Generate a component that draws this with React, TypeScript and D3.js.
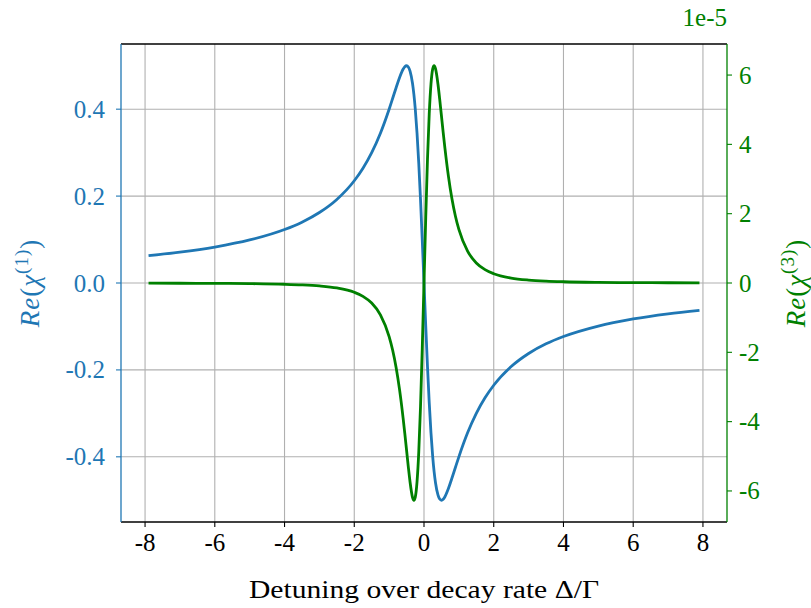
import React from "react";
import * as d3 from "d3";

const detuning = [
  -7.9, -7, -6, -5, -4, -3.5, -3, -2.5, -2, -1.75, -1.5, -1.25, -1, -0.9, -0.8, -0.7, -0.6, -0.55, -0.5, -0.45, -0.4, -0.33, -0.29, -0.25, -0.2, -0.15, -0.1, -0.05,
  0,
  0.05, 0.1, 0.15, 0.2, 0.25, 0.29, 0.33, 0.4, 0.45, 0.5, 0.55, 0.6, 0.7, 0.8, 0.9, 1, 1.25, 1.5, 1.75, 2, 2.5, 3, 3.5, 4, 5, 6, 7, 7.9,
];

const chi1 = [
  0.063, 0.0711, 0.0828, 0.099, 0.1231, 0.14, 0.1622, 0.1923, 0.2353, 0.2642, 0.3, 0.3448, 0.4, 0.4245, 0.4494, 0.473, 0.4918, 0.4977, 0.5, 0.4972, 0.4878, 0.4597, 0.434, 0.4, 0.3448, 0.2752, 0.1923, 0.099,
  0,
  -0.099, -0.1923, -0.2752, -0.3448, -0.4, -0.434, -0.4597, -0.4878, -0.4972, -0.5, -0.4977, -0.4918, -0.473, -0.4494, -0.4245, -0.4, -0.3448, -0.3, -0.2642, -0.2353, -0.1923, -0.1622, -0.14, -0.1231, -0.099, -0.0828, -0.0711, -0.063,
];

// in units of 1e-5
const chi3 = [
  -0.0049, -0.007, -0.011, -0.0189, -0.0366, -0.0541, -0.0846, -0.1428, -0.2672, -0.3848, -0.5791, -0.9181, -1.5443, -1.9328, -2.4371, -3.0846, -3.8909, -4.3477, -4.826, -5.3031, -5.7418, -6.1821, -6.269, -6.1773, -5.7384, -4.8743, -3.5696, -1.8924,
  0,
  1.8924, 3.5696, 4.8743, 5.7384, 6.1773, 6.269, 6.1821, 5.7418, 5.3031, 4.826, 4.3477, 3.8909, 3.0846, 2.4371, 1.9328, 1.5443, 0.9181, 0.5791, 0.3848, 0.2672, 0.1428, 0.0846, 0.0541, 0.0366, 0.0189, 0.011, 0.007, 0.0049,
];

const xTicks = [-8, -6, -4, -2, 0, 2, 4, 6, 8];
const leftTicks = [-0.4, -0.2, 0, 0.2, 0.4];
const leftTickLabels = ["-0.4", "-0.2", "0.0", "0.2", "0.4"];
const rightTicks = [-6, -4, -2, 0, 2, 4, 6];
const rightTickLabels = ["-6", "-4", "-2", "0", "2", "4", "6"];

const BLUE = "#1f77b4";
const GREEN = "#008000";
const FONT = "'Liberation Serif', 'DejaVu Serif', serif";

export default function App() {
  const L = 121, R = 727, T = 44, B = 522;
  const x = d3.scaleLinear().domain([-8.69, 8.69]).range([L, R]);
  const yL = d3.scaleLinear().domain([-0.55, 0.55]).range([B, T]);
  const yR = d3.scaleLinear().domain([-6.896, 6.896]).range([B, T]);

  const idx = detuning.map((_, i) => i);
  const line1 = d3.line<number>().x((i) => x(detuning[i])).y((i) => yL(chi1[i])).curve(d3.curveMonotoneX)(idx) || "";
  const line3 = d3.line<number>().x((i) => x(detuning[i])).y((i) => yR(chi3[i])).curve(d3.curveMonotoneX)(idx) || "";

  const fs = 25;

  return (
    <div style={{ position: "absolute", left: 0, top: 0 }}>
      <svg width={811} height={608} style={{ display: "block", background: "#fff" }} fontFamily={FONT}>
        <rect x={0} y={0} width={811} height={608} fill="#fff" />
        {/* grid */}
        {xTicks.map((t) => (
          <line key={"gx" + t} x1={x(t)} x2={x(t)} y1={T} y2={B} stroke="#b0b0b0" strokeWidth={1.1} />
        ))}
        {leftTicks.map((t) => (
          <line key={"gy" + t} x1={L} x2={R} y1={yL(t)} y2={yL(t)} stroke="#b0b0b0" strokeWidth={1.1} />
        ))}
        {/* curves */}
        <path d={line1} fill="none" stroke={BLUE} strokeWidth={2.8} strokeLinejoin="round" />
        <path d={line3} fill="none" stroke={GREEN} strokeWidth={2.8} strokeLinejoin="round" />
        {/* spines */}
        <line x1={L} x2={R} y1={T} y2={T} stroke="#000" strokeWidth={1.3} />
        <line x1={L} x2={R} y1={B} y2={B} stroke="#000" strokeWidth={1.3} />
        <line x1={L} x2={L} y1={T} y2={B} stroke={BLUE} strokeWidth={1.3} />
        <line x1={R} x2={R} y1={T} y2={B} stroke={GREEN} strokeWidth={1.3} />
        {/* x ticks */}
        {xTicks.map((t) => (
          <g key={"xt" + t}>
            <line x1={x(t)} x2={x(t)} y1={B} y2={B + 5} stroke="#000" strokeWidth={1.1} />
            <text x={x(t)} y={B + 29} textAnchor="middle" fontSize={fs} fill="#000">{t < 0 ? "-" + Math.abs(t) : String(t)}</text>
          </g>
        ))}
        {/* left ticks */}
        {leftTicks.map((t, i) => (
          <g key={"lt" + t}>
            <line x1={L - 5} x2={L} y1={yL(t)} y2={yL(t)} stroke={BLUE} strokeWidth={1.1} />
            <text x={L - 16} y={yL(t) + 8.5} textAnchor="end" fontSize={fs} fill={BLUE}>{leftTickLabels[i]}</text>
          </g>
        ))}
        {/* right ticks */}
        {rightTicks.map((t, i) => (
          <g key={"rt" + t}>
            <line x1={R} x2={R + 5} y1={yR(t)} y2={yR(t)} stroke={GREEN} strokeWidth={1.1} />
            <text x={R + 12} y={yR(t) + 8.5} textAnchor="start" fontSize={fs} fill={GREEN}>{rightTickLabels[i]}</text>
          </g>
        ))}
        {/* offset label */}
        <text x={R} y={26} textAnchor="end" fontSize={fs} fill={GREEN}>1e-5</text>
        {/* x label */}
        <text x={424} y={598} textAnchor="middle" fontSize={fs} fill="#000" textLength={350} lengthAdjust="spacingAndGlyphs">
          Detuning over decay rate Δ/Γ
        </text>
        {/* left y label */}
        <text transform={`translate(39, ${(T + B) / 2}) rotate(-90)`} textAnchor="middle" fontSize={27} fill={BLUE} letterSpacing={1}>
          <tspan fontStyle="italic">Re</tspan>
          <tspan>(</tspan>
          <tspan fontStyle="italic">χ</tspan>
          <tspan fontSize={19} dy={-11}>(1)</tspan>
          <tspan dy={11}>)</tspan>
        </text>
        {/* right y label */}
        <text transform={`translate(805, ${(T + B) / 2}) rotate(-90)`} textAnchor="middle" fontSize={27} fill={GREEN} letterSpacing={1}>
          <tspan fontStyle="italic">Re</tspan>
          <tspan>(</tspan>
          <tspan fontStyle="italic">χ</tspan>
          <tspan fontSize={19} dy={-11}>(3)</tspan>
          <tspan dy={11}>)</tspan>
        </text>
      </svg>
    </div>
  );
}
